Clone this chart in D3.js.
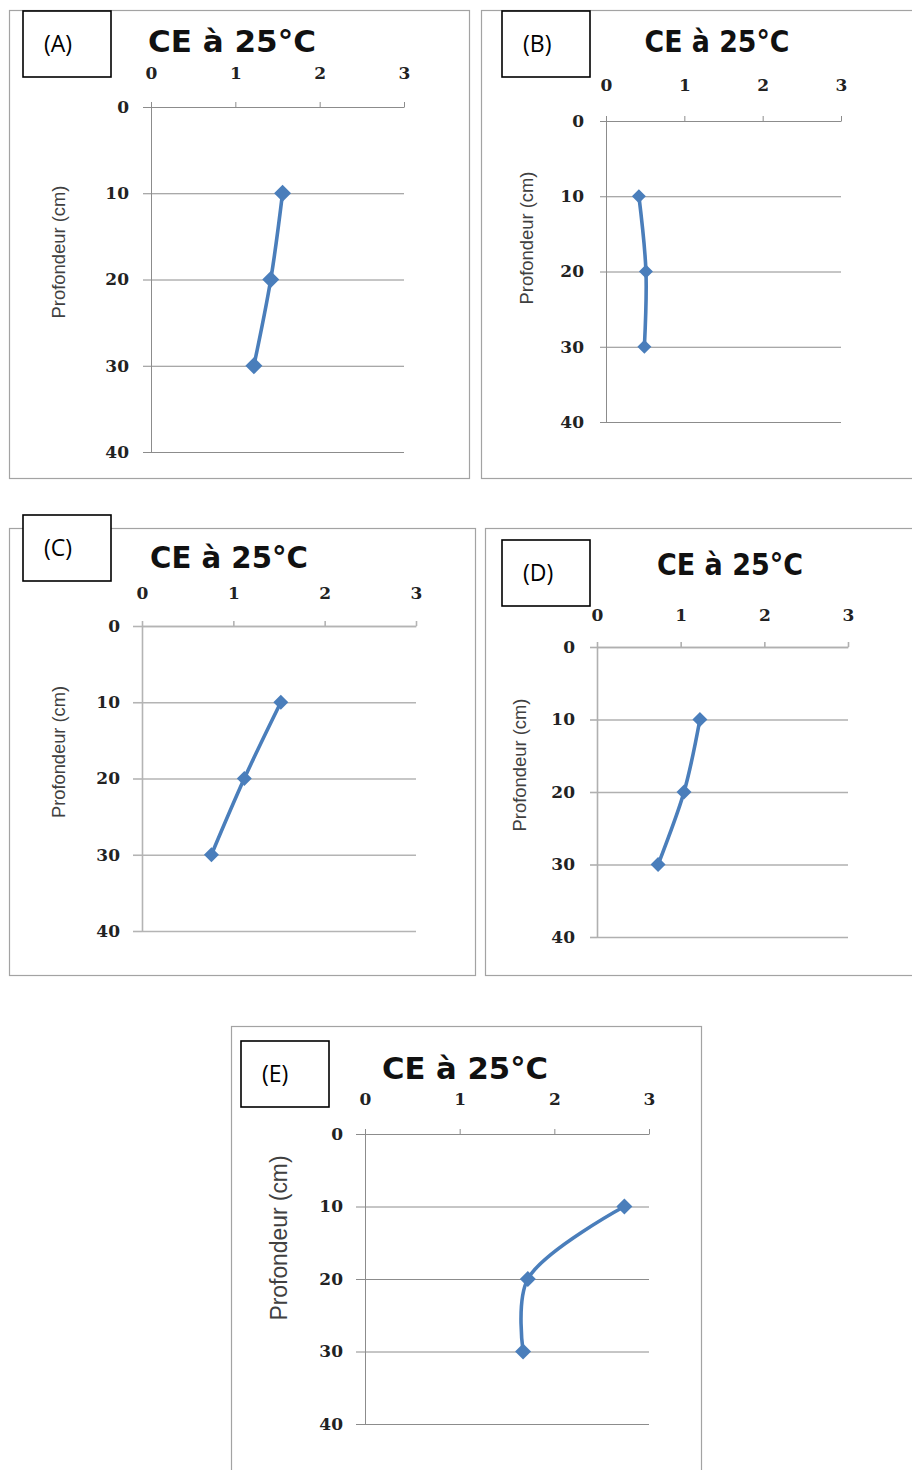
<!DOCTYPE html>
<html>
<head>
<meta charset="utf-8">
<script src="https://cdn.jsdelivr.net/npm/d3@7"></script>
<style>
  body { margin: 0; background: #fff; }
  svg { display: block; }
</style>
</head>
<body>
<svg id="fig" width="912" height="1470"></svg>
<script>
const TITLE = 'CE à 25°C'
const Y_LABEL = 'Profondeur (cm)'
const PANEL_NAMES = ['(A)', '(B)', '(C)', '(D)', '(E)']
const X_TICKS = [0, 1, 2, 3]
const Y_TICKS = [0, 10, 20, 30, 40]
const DEPTHS = [10, 20, 30]

// conductivity, one value per depth
const CE_A = [1.56, 1.42, 1.22]
const CE_B = [0.42, 0.51, 0.49]
const CE_C = [1.52, 1.12, 0.76]
const CE_D = [1.23, 1.04, 0.73]
const CE_E = [2.74, 1.72, 1.67]
const SERIES = [CE_A, CE_B, CE_C, CE_D, CE_E]

// where each little figure sits on the page (measured on the scan)
// plot = [x of 0, x of 3, y of 0, y of 40]
const LAYOUT = [
  { frame: [9, 10, 460, 468], box: [23, 11], plot: [151, 404, 107, 452], title: [232, 52, 168], ylab: [58, 252, 133], xOff: 34, yTick: 8, marker: 17, grid: '#8c8c8c', gridW: 1 },
  { frame: [481, 10, 450, 468], box: [502, 11], plot: [606, 841, 121, 422], title: [717, 52, 145], ylab: [526, 238, 133], xOff: 36, yTick: 6, marker: 14, grid: '#8c8c8c', gridW: 1 },
  { frame: [9, 528, 466, 447], box: [23, 515], plot: [142, 416, 626, 931], title: [229, 568, 158], ylab: [58, 752, 132], xOff: 33, yTick: 9, marker: 15, grid: '#b4b4b4', gridW: 1.6 },
  { frame: [485, 528, 450, 447], box: [502, 540], plot: [597, 848, 647, 937], title: [730, 575, 146], ylab: [519, 765, 133], xOff: 32, yTick: 7, marker: 15, grid: '#b0b0b0', gridW: 1.6 },
  { frame: [231, 1026, 470, 460], box: [241, 1041], plot: [365, 649, 1134, 1424], title: [465, 1079, 166], ylab: [279, 1238, 165], xOff: 35, yTick: 9, marker: 16, grid: '#8c8c8c', gridW: 1 }
]

const BLUE = '#4a7ebb'
const TICK_FONT = "'DejaVu Serif', serif"
const svg = d3.select('#fig')

/**
 * Draws one depth profile (frame, axes, smoothed line, diamonds, labels).
 */
function drawPanel (name, values, L) {
  const g = svg.append('g')
  const [x0, x1, y0, y1] = L.plot
  const x = d3.scaleLinear().domain([0, 3]).range([x0, x1])
  const y = d3.scaleLinear().domain([0, 40]).range([y0, y1])

  g.append('rect')
    .attr('x', L.frame[0] + 0.5).attr('y', L.frame[1] + 0.5)
    .attr('width', L.frame[2]).attr('height', L.frame[3])
    .attr('fill', '#fff').attr('stroke', '#a3a3a3').attr('stroke-width', 1.2)

  // horizontal gridlines
  g.append('g').attr('transform', 'translate(' + x0 + ',0)')
    .call(d3.axisLeft(y).tickValues(Y_TICKS).tickSize(-(x1 - x0)).tickFormat(''))
    .call(a => a.select('.domain').remove())
    .selectAll('line').attr('stroke', L.grid).attr('stroke-width', L.gridW)

  // depth axis on the left
  g.append('g').attr('transform', 'translate(' + x0 + ',0)')
    .call(d3.axisLeft(y).tickValues(Y_TICKS).tickFormat(d3.format('d'))
      .tickSizeInner(L.yTick).tickSizeOuter(0).tickPadding(22 - L.yTick))
    .call(a => a.selectAll('line, .domain').attr('stroke', L.grid).attr('stroke-width', L.gridW))
    .call(a => a.selectAll('text').attr('font-family', TICK_FONT).attr('font-weight', 'bold')
      .attr('font-size', 17).attr('fill', '#222'))

  // CE axis on top
  g.append('g').attr('transform', 'translate(0,' + y0 + ')')
    .call(d3.axisTop(x).tickValues(X_TICKS).tickFormat(d3.format('d'))
      .tickSizeInner(5).tickSizeOuter(0).tickPadding(L.xOff - 11))
    .call(a => a.selectAll('line, .domain').attr('stroke', L.grid).attr('stroke-width', L.gridW))
    .call(a => a.selectAll('text').attr('font-family', TICK_FONT).attr('font-weight', 'bold')
      .attr('font-size', 17).attr('fill', '#222'))

  const pts = DEPTHS.map((d, i) => ({ depth: d, ce: values[i] }))

  const line = d3.line()
    .x(d => x(d.ce))
    .y(d => y(d.depth))
    .curve(d3.curveCatmullRom.alpha(0.5))

  g.append('path').datum(pts)
    .attr('d', line)
    .attr('fill', 'none')
    .attr('stroke', BLUE)
    .attr('stroke-width', 3.6)
    .attr('stroke-linejoin', 'round')

  const diamond = d3.symbol(d3.symbolSquare, L.marker * L.marker / 2)
  g.selectAll('.mark').data(pts).enter().append('path')
    .attr('class', 'mark')
    .attr('d', diamond)
    .attr('transform', d => 'translate(' + x(d.ce) + ',' + y(d.depth) + ') rotate(45)')
    .attr('fill', BLUE)

  g.append('text')
    .attr('x', L.title[0]).attr('y', L.title[1])
    .attr('text-anchor', 'middle')
    .attr('font-family', "'DejaVu Sans', sans-serif").attr('font-weight', 'bold')
    .attr('font-size', 31).attr('fill', '#111')
    .attr('textLength', L.title[2]).attr('lengthAdjust', 'spacingAndGlyphs')
    .text(TITLE)

  g.append('text')
    .attr('transform', 'translate(' + L.ylab[0] + ',' + L.ylab[1] + ') rotate(-90)')
    .attr('text-anchor', 'middle').attr('dominant-baseline', 'central')
    .attr('font-family', "'Liberation Sans Narrow', 'Liberation Sans', sans-serif")
    .attr('font-size', L.ylab[2] > 150 ? 23 : 19).attr('fill', '#404040')
    .attr('textLength', L.ylab[2]).attr('lengthAdjust', 'spacingAndGlyphs')
    .text(Y_LABEL)

  // the letter box pasted over the corner
  g.append('rect')
    .attr('x', L.box[0]).attr('y', L.box[1])
    .attr('width', 88).attr('height', 66)
    .attr('fill', '#fff').attr('stroke', '#000').attr('stroke-width', 1.6)

  g.append('text')
    .attr('x', L.box[0] + 21).attr('y', L.box[1] + 41)
    .attr('font-family', "'Open Sans', sans-serif").attr('font-size', 23).attr('fill', '#000')
    .text(name)
}

PANEL_NAMES.forEach((name, i) => drawPanel(name, SERIES[i], LAYOUT[i]))
</script>
</body>
</html>
